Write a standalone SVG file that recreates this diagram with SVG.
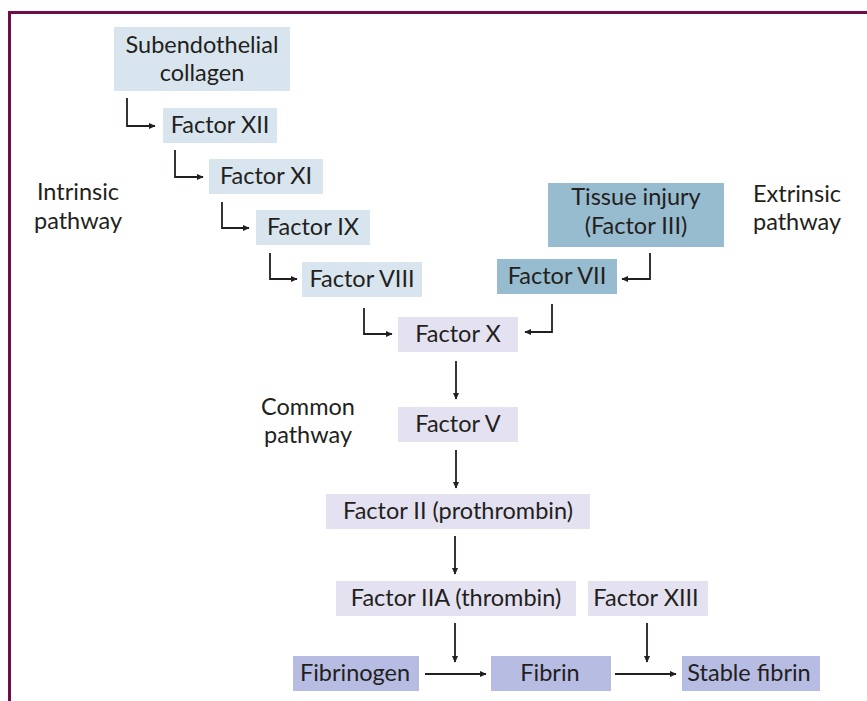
<svg xmlns="http://www.w3.org/2000/svg" width="867" height="701" viewBox="0 0 867 701">
<defs>
<marker id="ah" viewBox="0 0 10 10" refX="9" refY="5" markerWidth="7" markerHeight="7" markerUnits="userSpaceOnUse" orient="auto">
<path d="M0,0.5 L10,5 L0,9.5 Z" fill="#231f20"/>
</marker>
<style>
text{font-family:Lato,"Liberation Sans",sans-serif;font-size:23.5px;font-weight:400;fill:#231f20;text-anchor:middle}
.c1{fill:#d8e5ee}
.c2{fill:#97bbcf}
.c3{fill:#e4e2f1}
.c4{fill:#b6bce2}
.conn path{fill:none;stroke:#231f20;stroke-width:1.8;marker-end:url(#ah)}
</style>
</defs>
<rect width="867" height="701" fill="#fff"/>
<path d="M9.5,701 V12.5 H867" fill="none" stroke="#700d48" stroke-width="3"/>

<g id="label-intrinsic"><text x="78" y="200">Intrinsic</text><text x="78" y="229">pathway</text></g>
<g id="label-extrinsic"><text x="797" y="202">Extrinsic</text><text x="797" y="230">pathway</text></g>
<g id="label-common"><text x="308" y="415">Common</text><text x="308" y="443">pathway</text></g>

<g id="collagen"><rect class="c1" x="114" y="27" width="176" height="64"/><text x="202" y="53">Subendothelial</text><text x="202" y="81">collagen</text></g>
<g id="f12"><rect class="c1" x="163" y="108" width="114" height="35"/><text x="220" y="133">Factor XII</text></g>
<g id="f11"><rect class="c1" x="209" y="159" width="114" height="35"/><text x="266" y="184">Factor XI</text></g>
<g id="f9"><rect class="c1" x="256" y="210" width="114" height="35"/><text x="313" y="235">Factor IX</text></g>
<g id="f8"><rect class="c1" x="302" y="262" width="120" height="35"/><text x="362" y="287">Factor VIII</text></g>

<g id="tissue"><rect class="c2" x="548" y="183" width="176" height="64"/><text x="636" y="205">Tissue injury</text><text x="636" y="234">(Factor III)</text></g>
<g id="f7"><rect class="c2" x="497" y="259" width="120" height="35"/><text x="557" y="284">Factor VII</text></g>

<g id="f10"><rect class="c3" x="398" y="317" width="120" height="35"/><text x="458" y="342">Factor X</text></g>
<g id="f5"><rect class="c3" x="398" y="407" width="120" height="35"/><text x="458" y="432">Factor V</text></g>
<g id="f2"><rect class="c3" x="326" y="494" width="264" height="35"/><text x="458" y="519">Factor II (prothrombin)</text></g>
<g id="f2a"><rect class="c3" x="336" y="581" width="240" height="35"/><text x="456" y="606">Factor IIA (thrombin)</text></g>
<g id="f13"><rect class="c3" x="588" y="581" width="120" height="35"/><text x="646" y="606">Factor XIII</text></g>

<g id="fibrinogen"><rect class="c4" x="293" y="656" width="126" height="35"/><text x="355" y="681">Fibrinogen</text></g>
<g id="fibrin"><rect class="c4" x="491" y="656" width="120" height="35"/><text x="550" y="681">Fibrin</text></g>
<g id="stable"><rect class="c4" x="682" y="656" width="138" height="35"/><text x="749" y="681">Stable fibrin</text></g>

<g id="connectors" class="conn">
<path d="M127,98 V126 H155"/>
<path d="M175,150 V177 H203"/>
<path d="M222,202 V228 H249"/>
<path d="M270,253 V279 H297"/>
<path d="M364,308 V334 H392"/>
<path d="M650,253 V279 H622"/>
<path d="M552,304 V332 H525"/>
<path d="M456,361 V399"/>
<path d="M456,450 V488"/>
<path d="M455,536 V574"/>
<path d="M455,623 V662"/>
<path d="M647,623 V662"/>
<path d="M425,674 H486"/>
<path d="M615,674 H676"/>
</g>
</svg>
